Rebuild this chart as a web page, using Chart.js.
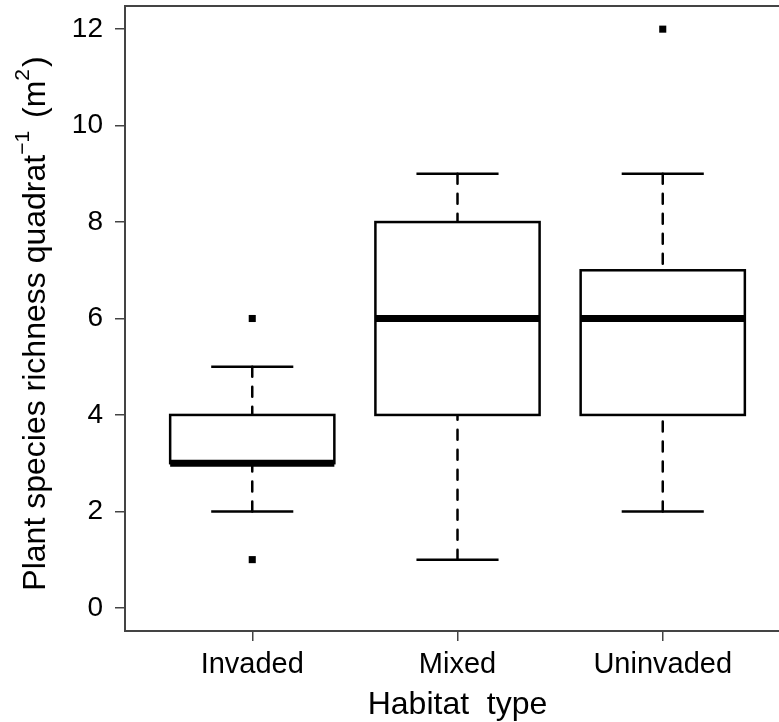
<!DOCTYPE html>
<html>
<head>
    <meta charset="UTF-8">
    <title>Plant species richness by habitat type</title>
    <script src="https://cdn.jsdelivr.net/npm/chart.js@4.4.1/dist/chart.umd.min.js"></script>
    <style>
        html, body { margin: 0; padding: 0; background: #fff; overflow: hidden; }
        #wrap { width: 800px; height: 722px; }
    </style>
</head>
<body>

<div id="wrap">
    <canvas id="myChart" width="800" height="722"></canvas>
</div>

<script>
    // five-number summaries per habitat
    var categories = ['Invaded', 'Mixed', 'Uninvaded'];
    var whiskerLow = [2, 1, 2];
    var q1 = [3, 4, 4];
    var median = [3, 6, 6];
    var q3 = [4, 8, 7];
    var whiskerHigh = [5, 9, 9];

    // points outside the whiskers (group number, value)
    var outlierGroup = [1, 1, 3];
    var outlierValue = [1, 6, 12];

    var yTicks = [0, 2, 4, 6, 8, 10, 12];

    var FONT = '"Liberation Sans", Arial, sans-serif';
    var frameColor = '#444';

    // boxes, whiskers, staples and medians drawn on the chart's scales
    var boxPlugin = {
        id: 'boxes',
        beforeDatasetsDraw: function(chart) {
            var ctx = chart.ctx;
            var xs = chart.scales.x, ys = chart.scales.y;
            ctx.save();
            ctx.strokeStyle = '#000';
            categories.forEach(function(c, i) {
                var pos = i + 1;
                var x = xs.getPixelForValue(pos);
                var halfBox = xs.getPixelForValue(pos + 0.4) - x;
                var halfCap = xs.getPixelForValue(pos + 0.2) - x;

                // dashed whiskers, from the whisker end toward the box
                ctx.lineWidth = 2.5;
                ctx.lineCap = 'round';
                ctx.setLineDash([10, 10]);
                ctx.beginPath();
                ctx.moveTo(x, ys.getPixelForValue(whiskerLow[i]));
                ctx.lineTo(x, ys.getPixelForValue(q1[i]));
                ctx.moveTo(x, ys.getPixelForValue(whiskerHigh[i]));
                ctx.lineTo(x, ys.getPixelForValue(q3[i]));
                ctx.stroke();
                ctx.setLineDash([]);

                // staples
                ctx.lineCap = 'butt';
                ctx.beginPath();
                [whiskerLow[i], whiskerHigh[i]].forEach(function(v) {
                    var y = ys.getPixelForValue(v);
                    ctx.moveTo(x - halfCap, y);
                    ctx.lineTo(x + halfCap, y);
                });
                ctx.stroke();

                // box
                var yTop = ys.getPixelForValue(q3[i]);
                var yBot = ys.getPixelForValue(q1[i]);
                ctx.fillStyle = '#fff';
                ctx.fillRect(x - halfBox, yTop, halfBox * 2, yBot - yTop);
                ctx.lineJoin = 'miter';
                ctx.strokeRect(x - halfBox, yTop, halfBox * 2, yBot - yTop);

                // median
                var ym = ys.getPixelForValue(median[i]);
                ctx.lineWidth = 7;
                ctx.beginPath();
                ctx.moveTo(x - halfBox, ym);
                ctx.lineTo(x + halfBox, ym);
                ctx.stroke();
            });
            ctx.restore();
        },
        afterDraw: function(chart) {
            var ctx = chart.ctx;
            var a = chart.chartArea;
            ctx.save();

            // frame around the plotting region
            ctx.strokeStyle = frameColor;
            ctx.lineWidth = 2;
            ctx.strokeRect(a.left, a.top, a.right - a.left, a.bottom - a.top);

            // x axis title
            ctx.fillStyle = '#000';
            ctx.textBaseline = 'alphabetic';
            ctx.textAlign = 'center';
            ctx.font = '32px ' + FONT;
            ctx.fillText('Habitat  type', (a.left + a.right) / 2, 714);

            // y axis title with superscripts, rotated
            var parts = [
                { t: 'Plant species richness quadrat', size: 32, rise: 0 },
                { t: '\u22121', size: 21, rise: 16 },
                { t: ' (m', size: 32, rise: 0, gap: 4 },
                { t: '2', size: 21, rise: 16 },
                { t: ')', size: 32, rise: 0, gap: 2 }
            ];
            var total = 0;
            parts.forEach(function(p) {
                ctx.font = p.size + 'px ' + FONT;
                p.w = ctx.measureText(p.t).width + (p.gap || 0);
                total += p.w;
            });
            ctx.translate(45, (a.top + a.bottom) / 2 + 5);
            ctx.rotate(-Math.PI / 2);
            ctx.textAlign = 'left';
            var cx = -total / 2;
            parts.forEach(function(p) {
                ctx.font = p.size + 'px ' + FONT;
                ctx.fillText(p.t, cx + (p.gap || 0), -p.rise);
                cx += p.w;
            });
            ctx.restore();
        }
    };

    var outliers = outlierGroup.map(function(g, i) {
        return { x: g, y: outlierValue[i] };
    });

    var myChart = new Chart('myChart', {
        type: 'scatter',
        data: {
            datasets: [{
                data: outliers,
                pointStyle: 'rect',
                pointRadius: 5,
                pointBorderWidth: 0,
                backgroundColor: '#000',
                borderColor: '#000'
            }]
        },
        options: {
            responsive: false,
            animation: false,
            events: [],
            layout: { padding: { top: 6, right: 10, left: 0, bottom: 0 } },
            plugins: {
                legend: { display: false },
                tooltip: { enabled: false }
            },
            scales: {
                x: {
                    type: 'linear',
                    min: 0.38,
                    max: 3.62,
                    afterBuildTicks: function(scale) {
                        scale.ticks = categories.map(function(c, i) { return { value: i + 1 }; });
                    },
                    afterFit: function(scale) {
                        scale.height = 91;
                        scale.paddingLeft = 0;
                        scale.paddingRight = 0;
                    },
                    border: { display: false },
                    grid: {
                        drawOnChartArea: false,
                        drawTicks: true,
                        tickLength: 10,
                        color: frameColor,
                        lineWidth: 1.5
                    },
                    ticks: {
                        autoSkip: false,
                        maxRotation: 0,
                        padding: 7,
                        color: '#000',
                        font: { family: FONT, size: 29 },
                        callback: function(v) { return categories[v - 1]; }
                    }
                },
                y: {
                    min: -0.48,
                    max: 12.48,
                    afterBuildTicks: function(scale) {
                        scale.ticks = yTicks.map(function(v) { return { value: v }; });
                    },
                    afterFit: function(scale) {
                        scale.width = 125;
                        scale.paddingTop = 0;
                        scale.paddingBottom = 0;
                    },
                    border: { display: false },
                    grid: {
                        drawOnChartArea: false,
                        drawTicks: true,
                        tickLength: 10,
                        color: frameColor,
                        lineWidth: 1.5
                    },
                    ticks: {
                        padding: 12,
                        color: '#000',
                        font: { family: FONT, size: 28 },
                        callback: function(v) { return v; }
                    }
                }
            }
        },
        plugins: [boxPlugin]
    });
</script>

</body>
</html>
